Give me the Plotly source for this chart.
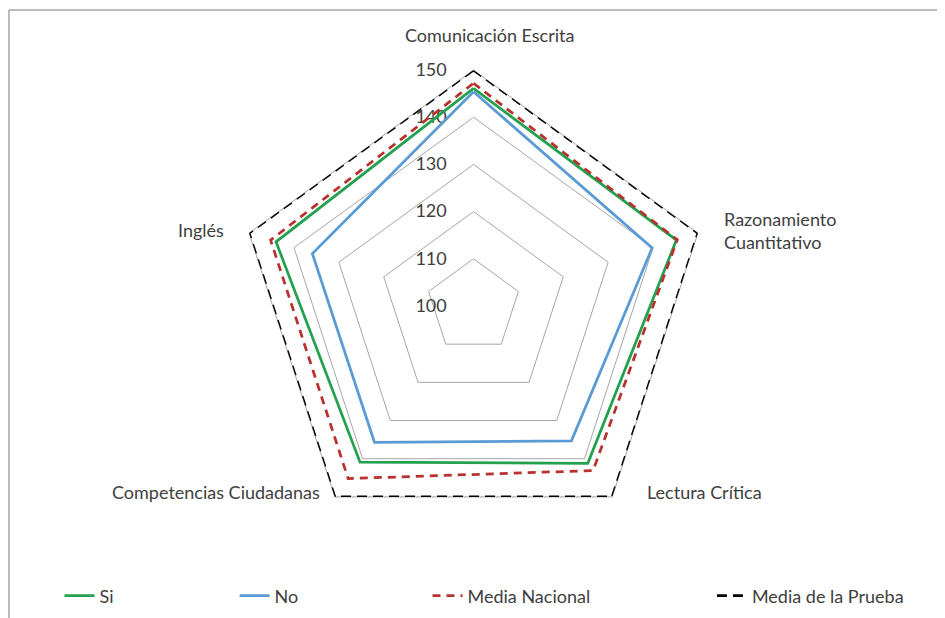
import plotly.graph_objects as go

# ── Datos ─────────────────────────────────────────────────────────────────────

CATEGORIAS = [
    "Comunicación Escrita",
    "Razonamiento Cuantitativo",
    "Lectura Crítica",
    "Competencias Ciudadanas",
    "Inglés",
]

SI = [146.1, 145.2, 141.2, 140.9, 144.0]
NO = [145.4, 139.8, 135.3, 135.7, 135.9]
MEDIA_NACIONAL = [147.2, 145.4, 143.1, 145.2, 145.2]
MEDIA_PRUEBA = [150, 150, 150, 150, 150]

RADIAL_TICKS = [100, 110, 120, 130, 140, 150]

COLORS = {
    "green": "#23a14f",
    "blue": "#5b9bd5",
    "red": "#b8312f",
    "black": "#000000",
    "grid": "#a6a6a6",
    "text": "#404040",
}
FONT = "Lato, Calibri, sans-serif"
FS = 18


def _closed(vals):
    return vals + vals[:1]


theta = _closed(CATEGORIAS)

fig = go.Figure()

series = [
    ("Si", SI, COLORS["green"], "solid", "legend"),
    ("No", NO, COLORS["blue"], "solid", "legend2"),
    ("Media Nacional", MEDIA_NACIONAL, COLORS["red"], "8px,6px", "legend3"),
    ("Media de la Prueba", MEDIA_PRUEBA, COLORS["black"], "10px,6px", "legend4"),
]

for name, vals, color, dash, leg in series:
    fig.add_trace(go.Scatterpolar(
        r=_closed(vals), theta=theta,
        mode="lines", name=name,
        line=dict(color=color, width=2.75, dash=dash),
        legend=leg,
        hovertemplate="%{theta}: %{r}<extra>" + name + "</extra>",
    ))

fig.update_layout(
    width=945, height=618,
    paper_bgcolor="white", plot_bgcolor="white",
    margin=dict(l=0, r=0, t=0, b=0),
    font=dict(family=FONT, size=FS, color=COLORS["text"]),
    polar=dict(
        domain=dict(x=[0.2429, 0.7423], y=[0.1359, 0.8997]),
        gridshape="linear",
        bgcolor="white",
        angularaxis=dict(
            rotation=90, direction="clockwise",
            showgrid=False, showticklabels=False, ticks="",
            showline=True, linecolor=COLORS["grid"], linewidth=1,
            layer="below traces",
        ),
        radialaxis=dict(
            range=[100, 150], tickvals=RADIAL_TICKS,
            angle=90, tickangle=90, side="counterclockwise",
            showline=False,
            ticks="outside", ticklen=20, tickcolor="rgba(0,0,0,0)",
            gridcolor=COLORS["grid"], gridwidth=1,
            tickfont=dict(size=FS, color=COLORS["text"]),
            layer="below traces",
        ),
    ),
    showlegend=True,
)

# Leyendas separadas para colocar cada entrada como en el original
legend_x = [0.0545, 0.2398, 0.4439, 0.7449]
for i, x in enumerate(legend_x):
    key = "legend" if i == 0 else f"legend{i + 1}"
    fig.update_layout(**{key: dict(
        x=x, y=0.0485, xanchor="left", yanchor="middle",
        orientation="h", bgcolor="rgba(0,0,0,0)",
        font=dict(family=FONT, size=FS, color=COLORS["text"]),
    )})

# Etiquetas de las categorías
label_pos = [
    (0.509, 0.9563, "center"),
    (0.7556, 0.6392, "left"),
    (0.6741, 0.2168, "left"),
    (0.3323, 0.2168, "right"),
    (0.2307, 0.6408, "right"),
]
label_text = [
    "Comunicación Escrita",
    "Razonamiento<br>Cuantitativo",
    "Lectura Crítica",
    "Competencias Ciudadanas",
    "Inglés",
]
for (x, y, anchor), txt in zip(label_pos, label_text):
    fig.add_annotation(
        text=txt, x=x, y=y, xref="paper", yref="paper",
        xanchor=anchor, yanchor="middle", align="left",
        showarrow=False, font=dict(size=FS, color=COLORS["text"]),
    )

# Marco del área del gráfico
fig.add_shape(type="line", xref="paper", yref="paper",
              x0=0.001, x1=1, y0=0.9968, y1=0.9968,
              line=dict(color=COLORS["grid"], width=1.5))
fig.add_shape(type="line", xref="paper", yref="paper",
              x0=0.001, x1=0.001, y0=0, y1=0.9968,
              line=dict(color=COLORS["grid"], width=1.5))

fig.write_html("out.html")
